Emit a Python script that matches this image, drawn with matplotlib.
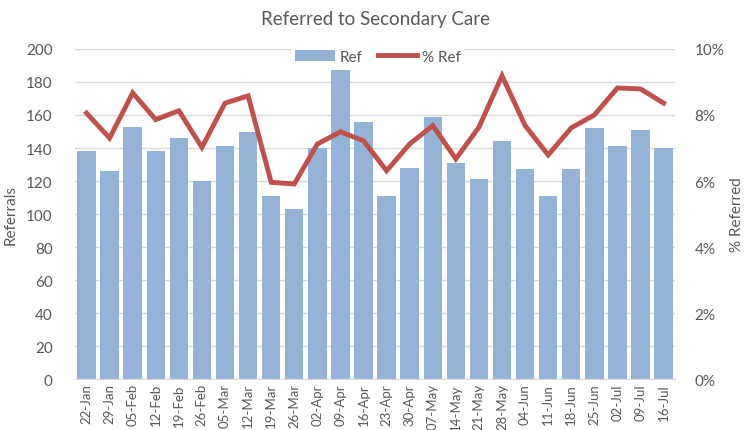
import matplotlib.pyplot as plt
from matplotlib.ticker import FuncFormatter

plt.rcParams['font.family'] = ['Lato', 'DejaVu Sans']

weeks = ['22-Jan', '29-Jan', '05-Feb', '12-Feb', '19-Feb', '26-Feb', '05-Mar',
         '12-Mar', '19-Mar', '26-Mar', '02-Apr', '09-Apr', '16-Apr', '23-Apr',
         '30-Apr', '07-May', '14-May', '21-May', '28-May', '04-Jun', '11-Jun',
         '18-Jun', '25-Jun', '02-Jul', '09-Jul', '16-Jul']

referrals = [138, 126, 153, 138, 146, 120, 141, 150, 111, 103, 140, 187, 156,
             111, 128, 159, 131, 121, 144, 127, 111, 127, 152, 141, 151, 140]

pct_ref = [8.06, 7.30, 8.67, 7.86, 8.13, 7.02, 8.36, 8.58, 5.96, 5.91, 7.12,
           7.49, 7.22, 6.31, 7.12, 7.68, 6.67, 7.63, 9.19, 7.68, 6.79, 7.61,
           8.00, 8.82, 8.79, 8.36]

grey = '#595959'
bar_col = '#95B3D7'
line_col = '#C0504D'

fig = plt.figure(figsize=(7.46, 4.31), dpi=100)
ax = fig.add_axes([0.1005, 0.1183, 0.8045, 0.7657])
ax2 = ax.twinx()

x = list(range(len(weeks)))
bars = ax.bar(x, referrals, width=0.8, color=bar_col, zorder=2, label='Ref')
line, = ax2.plot(x, pct_ref, color=line_col, lw=3.5, zorder=3, label='% Ref',
                 solid_joinstyle='miter')

ax.set_xlim(-0.5, len(weeks) - 0.5)
ax.set_ylim(0, 200)
ax.set_yticks(range(0, 201, 20))
ax2.set_ylim(0, 10)
ax2.set_yticks(range(0, 11, 2))
ax2.yaxis.set_major_formatter(FuncFormatter(lambda v, p: '%d%%' % v))

ax.grid(axis='y', color='#D9D9D9', lw=1, zorder=0)
ax.set_axisbelow(True)
ax.set_zorder(ax2.get_zorder() - 1)
ax.patch.set_visible(False)

for a in (ax, ax2):
    for s in a.spines.values():
        s.set_visible(False)
    a.tick_params(length=0, colors=grey, labelsize=11)
ax.spines['bottom'].set_visible(True)
ax.spines['bottom'].set_color('#D9D9D9')

ax.set_xticks(x)
ax.set_xticklabels(weeks, rotation=90, fontsize=9.5, color=grey)
ax.tick_params(axis='x', pad=3)
ax.tick_params(axis='y', pad=16)
ax2.tick_params(axis='y', pad=14)

ax.set_ylabel('Referrals', fontsize=11, color=grey, labelpad=6)
ax2.set_ylabel('% Referred', fontsize=11, color=grey, rotation=90, labelpad=4)

fig.text(0.503, 0.955, 'Referred to Secondary Care', ha='center', va='center',
         fontsize=13.5, color=grey)

leg = ax2.legend([bars, line], ['Ref', '% Ref'], loc='upper center',
                 bbox_to_anchor=(0.505, 1.03), ncol=2, frameon=True,
                 fontsize=11, handlelength=2.6, columnspacing=1.0,
                 handletextpad=0.3, borderpad=0.2)
leg.get_frame().set_edgecolor('none')
leg.get_frame().set_facecolor('white')
leg.get_frame().set_alpha(1)
for t in leg.get_texts():
    t.set_color(grey)

fig.savefig('out.png', dpi=100)
